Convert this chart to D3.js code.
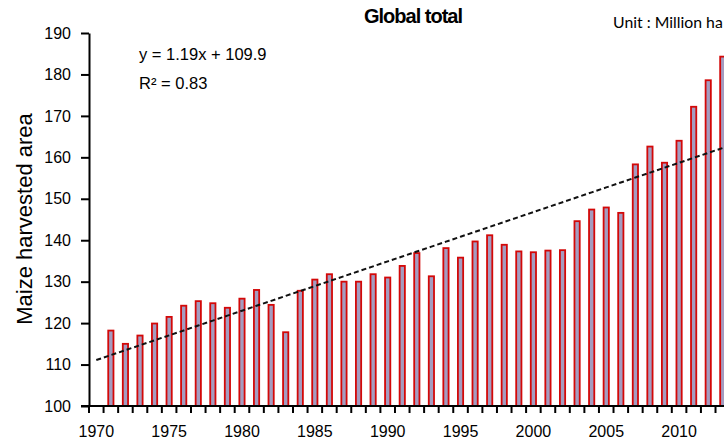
<!DOCTYPE html>
<html>
<head>
<meta charset="utf-8">
<script src="https://cdn.jsdelivr.net/npm/d3@7"></script>
<style>
  html, body { margin: 0; padding: 0; background: #fff; overflow: hidden; }
  svg { display: block; }
</style>
</head>
<body>
<svg id="chart" width="724" height="443"></svg>
<script>
// Maize harvested area, global total (million ha)
const years = d3.range(1970, 2014);
const areaValues = [
  null, 118.2, 115.0, 117.0, 119.9, 121.5, 124.2, 125.3, 124.8, 123.7,
  125.9, 128.0, 124.4, 117.8, 127.8, 130.5, 131.8, 130.0, 130.0, 131.8,
  131.0, 133.8, 136.9, 131.3, 138.1, 135.8, 139.7, 141.2, 138.9, 137.3,
  137.1, 137.5, 137.6, 144.6, 147.4, 147.9, 146.6, 158.3, 162.6, 158.7,
  164.0, 172.2, 178.6, 184.3
];
const yTicks = [100, 110, 120, 130, 140, 150, 160, 170, 180, 190];
const xLabelYears = [1970, 1975, 1980, 1985, 1990, 1995, 2000, 2005, 2010];
// Linear trend: y = slope * n + intercept, n = 1 for the first year
const trendSlope = 1.19;
const trendIntercept = 109.9;
const equationText = "y = 1.19x + 109.9";
const r2Text = "R\u00b2 = 0.83";

(function drawChart() {
  const data = years.map((yr, i) => ({ year: yr, value: areaValues[i] }));

  const svg = d3.select("#chart");
  const plotLeft = 89, plotBottom = 406, plotTop = 33;
  const step = 14.57;

  const x = d3.scaleBand()
    .domain(years)
    .range([plotLeft, plotLeft + step * years.length])
    .paddingInner(0.64)
    .paddingOuter(0.32);

  const y = d3.scaleLinear().domain([100, 190]).range([plotBottom, plotTop]);

  const font = "'Liberation Sans', Arial, sans-serif";

  // Bars
  svg.append("g")
    .selectAll("rect")
    .data(data.filter(d => d.value != null))
    .join("rect")
    .attr("x", d => x(d.year))
    .attr("y", d => y(d.value))
    .attr("width", x.bandwidth())
    .attr("height", d => y(100) - y(d.value))
    .attr("fill", "#a49cc0")
    .attr("stroke", "#d30808")
    .attr("stroke-width", 1.8);

  // Trend line
  const center = yr => x(yr) + x.bandwidth() / 2;
  svg.append("path")
    .datum(years)
    .attr("fill", "none")
    .attr("stroke", "#111")
    .attr("stroke-width", 2)
    .attr("stroke-dasharray", "5,3")
    .attr("d", d3.line()
      .x(yr => center(yr))
      .y((yr, i) => y(trendSlope * (i + 1) + trendIntercept)));

  // Y axis
  const yAxis = svg.append("g")
    .attr("transform", `translate(${plotLeft},0)`)
    .call(d3.axisLeft(y).tickValues(yTicks).tickSize(8).tickPadding(10).tickSizeOuter(0));
  yAxis.select(".domain").attr("stroke", "#000").attr("stroke-width", 2);
  yAxis.selectAll(".tick line").attr("stroke", "#000").attr("stroke-width", 2);
  yAxis.selectAll(".tick text")
    .attr("font-family", font).attr("font-size", 16).attr("fill", "#000");

  // X axis: ticks between categories, labels every five years
  const xAxisG = svg.append("g").attr("transform", `translate(0,${plotBottom})`);
  xAxisG.append("line")
    .attr("x1", plotLeft - 8).attr("x2", x.range()[1] + 10)
    .attr("stroke", "#000").attr("stroke-width", 2);
  const boundary = yr => x(yr) - x.step() * x.paddingInner() / 2;
  xAxisG.selectAll("line.tk")
    .data(years)
    .join("line")
    .attr("class", "tk")
    .attr("x1", yr => boundary(yr))
    .attr("x2", yr => boundary(yr))
    .attr("y1", 0).attr("y2", 7)
    .attr("stroke", "#000").attr("stroke-width", 2);
  xAxisG.selectAll("text")
    .data(xLabelYears)
    .join("text")
    .attr("x", yr => center(yr))
    .attr("y", 31)
    .attr("text-anchor", "middle")
    .attr("font-family", font).attr("font-size", 16)
    .text(yr => yr);

  // Axis title
  svg.append("text")
    .attr("transform", "translate(32,219) rotate(-90)")
    .attr("text-anchor", "middle")
    .attr("font-family", font).attr("font-size", 22)
    .text("Maize harvested area");

  // Title and unit
  svg.append("text")
    .attr("x", 413).attr("y", 23)
    .attr("text-anchor", "middle")
    .attr("font-family", font).attr("font-weight", "bold")
    .attr("font-size", 20).attr("letter-spacing", -1)
    .text("Global total");

  svg.append("text")
    .attr("x", 613).attr("y", 28)
    .attr("font-family", "Lato, 'Open Sans', sans-serif")
    .attr("font-size", 15.8)
    .text("Unit : Million ha");

  // Regression annotation
  svg.append("text")
    .attr("x", 139).attr("y", 60)
    .attr("font-family", font).attr("font-size", 16.5)
    .text(equationText);
  svg.append("text")
    .attr("x", 139).attr("y", 89)
    .attr("font-family", font).attr("font-size", 16.5)
    .text(r2Text);
})();
</script>
</body>
</html>
